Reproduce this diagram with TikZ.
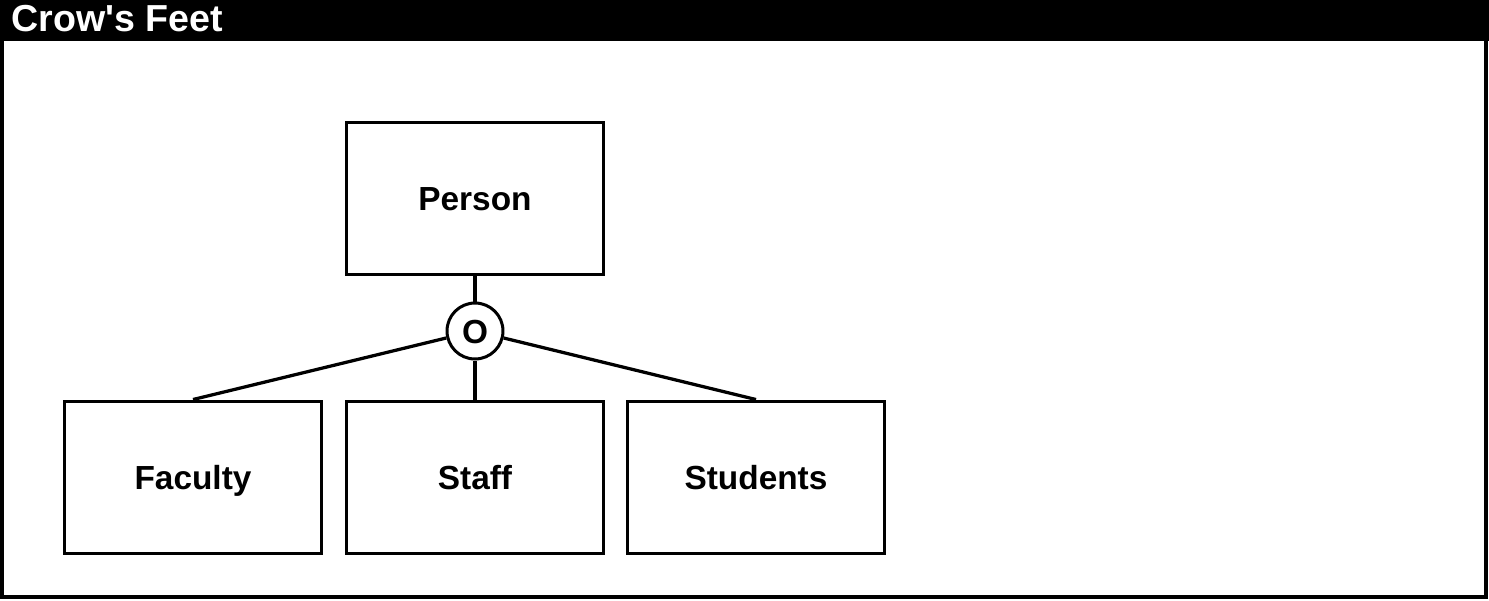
\documentclass[tikz,border=0pt]{standalone}
\usepackage{fontspec}
\setmainfont{Liberation Sans}
\usetikzlibrary{positioning}

\begin{document}
\begin{tikzpicture}[
  x=0.02cm, y=-0.02cm,
  font=\bfseries\fontsize{19pt}{21pt}\selectfont,
  ent/.style={rectangle, draw=black, line width=0.06cm, fill=white,
              minimum width=5.16cm, minimum height=3.06cm, inner sep=0pt,
              text height=0.48cm, text depth=0pt},
  disj/.style={circle, draw=black, line width=0.06cm, fill=white,
               minimum size=1.12cm, inner sep=0pt,
               text height=0.48cm, text depth=0pt},
  lnk/.style={draw=black, line width=0.065cm}
]
\useasboundingbox (0,0) rectangle (1489,600);

% frame and title bar
\draw[line width=0.065cm] (2,20) rectangle (1486,597);
\fill[black] (0,0) rectangle (1489,41);
\node[anchor=base west, inner sep=0pt, text=white,
      font=\bfseries\fontsize{21.4pt}{23pt}\selectfont] (title) at (11,31) {Crow\textquotesingle s Feet};

\node[ent]  (person)   at (475,198.5) {Person};
\node[disj] (ovl)      at (475,331)   {O};
\node[ent]  (faculty)  at (193,477.5) {Faculty};
\node[ent]  (staff)    at (475,477.5) {Staff};
\node[ent]  (students) at (756,477.5) {Students};

\draw[lnk] (person.south) -- (ovl.north);
\draw[lnk] (ovl) -- (faculty.north);
\draw[lnk] (ovl.south) -- (staff.north);
\draw[lnk] (ovl) -- (students.north);
\end{tikzpicture}
\end{document}
